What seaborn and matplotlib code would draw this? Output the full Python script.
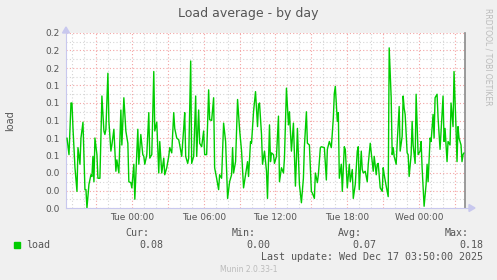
import matplotlib
matplotlib.use("Agg")
import matplotlib.pyplot as plt
import seaborn as sns
import pandas as pd
from matplotlib.ticker import MultipleLocator, FuncFormatter
from matplotlib.patches import Polygon, Rectangle
from matplotlib.lines import Line2D

# ---- data (minutes relative to Tue 00:00, load average) ----
minutes = [
    -325, -315, -305, -300, -295, -285, -275, -270, -260, -255, -245, -235, -230, -225,
    -215, -205, -200, -195, -190, -185, -175, -170, -160, -150, -140, -135, -130, -120,
    -115, -105, -100, -90, -80, -75, -65, -55, -50, -40, -30, -20, -15, -5, 0,
    10, 15, 30, 35, 45, 55, 60, 65, 75, 85, 90, 100, 110, 115, 125, 135, 140, 150, 160,
    165, 175, 185, 190, 200, 210, 215, 225, 235, 240, 250, 260, 265, 270, 280, 285, 295,
    300, 310, 320, 325, 335, 340,
    350, 360, 365, 375, 385, 390, 400, 410, 415, 425, 435, 440, 450, 460, 470, 475, 480,
    490, 500, 505, 510, 520, 530, 540, 550, 560, 570, 580, 585, 595, 600, 610, 620, 630,
    635, 640, 650, 655, 665, 675, 680,
    690, 695, 700, 710, 715, 725, 735, 740, 750, 760, 765, 775, 785, 790, 800, 810, 820,
    825, 830, 840, 850, 860, 865, 875, 880, 890, 900, 905, 915, 920, 930, 935, 945, 950,
    965, 975, 980, 990, 1000, 1010, 1015,
    1020, 1030, 1035, 1040, 1050, 1055, 1065, 1070, 1080, 1090, 1095, 1105, 1110, 1120,
    1130, 1135, 1140, 1150, 1155, 1160, 1170, 1180, 1185, 1195, 1205, 1210, 1215, 1225,
    1230, 1235, 1245, 1255, 1260, 1265, 1275, 1285, 1290, 1300, 1305, 1310, 1315, 1325,
    1330, 1340, 1345, 1355,
    1360, 1365, 1370, 1380, 1385, 1390, 1400, 1405, 1410, 1420, 1425, 1435, 1445, 1450,
    1455, 1465, 1475, 1480, 1485, 1495, 1500, 1510, 1515, 1520, 1530, 1535, 1545, 1550,
    1560, 1565, 1570, 1580, 1585, 1595, 1600, 1610, 1615, 1625, 1630, 1635, 1640, 1650,
    1655, 1660, 1665,
]
load = [
    0.080, 0.061, 0.120, 0.120, 0.091, 0.046, 0.019, 0.069, 0.050, 0.080, 0.098, 0.021, 0.021, 0.000,
    0.027, 0.038, 0.036, 0.059, 0.030, 0.080, 0.061, 0.034, 0.034, 0.128, 0.088, 0.084, 0.090, 0.154,
    0.099, 0.065, 0.072, 0.090, 0.042, 0.055, 0.040, 0.112, 0.072, 0.126, 0.088, 0.074, 0.030, 0.029, 0.023,
    0.050, 0.010, 0.090, 0.050, 0.084, 0.061, 0.059, 0.050, 0.061, 0.109, 0.057, 0.061, 0.156, 0.088, 0.098, 0.040, 0.076, 0.040, 0.057,
    0.038, 0.046, 0.059, 0.069, 0.063, 0.109, 0.091, 0.080, 0.078, 0.072, 0.059, 0.091, 0.109, 0.059, 0.051, 0.057, 0.168,
    0.051, 0.059, 0.128, 0.059, 0.112, 0.074,
    0.070, 0.088, 0.061, 0.061, 0.135, 0.101, 0.100, 0.126, 0.046, 0.034, 0.021, 0.038, 0.034, 0.097, 0.076, 0.042, 0.011,
    0.030, 0.038, 0.069, 0.040, 0.053, 0.124, 0.090, 0.065, 0.023, 0.038, 0.053, 0.036, 0.076, 0.074, 0.110, 0.133, 0.093,
    0.118, 0.120, 0.084, 0.050, 0.065, 0.042, 0.011,
    0.095, 0.053, 0.063, 0.061, 0.051, 0.059, 0.105, 0.030, 0.046, 0.040, 0.057, 0.137, 0.095, 0.110, 0.065, 0.097, 0.025,
    0.055, 0.091, 0.027, 0.006, 0.034, 0.070, 0.110, 0.074, 0.072, 0.019, 0.017, 0.011, 0.040, 0.029, 0.038, 0.069, 0.070,
    0.069, 0.032, 0.067, 0.076, 0.069, 0.103, 0.131,
    0.139, 0.099, 0.109, 0.034, 0.050, 0.019, 0.070, 0.067, 0.023, 0.050, 0.030, 0.044, 0.011, 0.027,
    0.065, 0.070, 0.021, 0.065, 0.044, 0.040, 0.042, 0.030, 0.050, 0.074, 0.053, 0.042, 0.059, 0.038,
    0.050, 0.051, 0.023, 0.019, 0.046, 0.038, 0.025, 0.013, 0.183, 0.126, 0.061, 0.069, 0.059, 0.050,
    0.074, 0.116, 0.065, 0.082,
    0.128, 0.114, 0.107, 0.063, 0.061, 0.036, 0.061, 0.099, 0.072, 0.051, 0.130, 0.061, 0.065, 0.076,
    0.046, 0.002, 0.027, 0.050, 0.030, 0.080, 0.076, 0.107, 0.080, 0.126, 0.130, 0.103, 0.067, 0.088,
    0.128, 0.076, 0.091, 0.053, 0.076, 0.072, 0.120, 0.093, 0.156, 0.091, 0.053, 0.093, 0.080, 0.072,
    0.053, 0.061, 0.063,
]
title = "Load average - by day"
ylabel = "load"
series_name = "load"
stat_headers = ["Cur:", "Min:", "Avg:", "Max:"]
stat_values = ["0.08", "0.00", "0.07", "0.18"]
last_update = "Last update: Wed Dec 17 03:50:00 2025"
footer = "Munin 2.0.33-1"
side_text = "RRDTOOL / TOBI OETIKER"
day_names = {-1: "Mon", 0: "Tue", 1: "Wed"}
x_range = (-330, 1670)
y_range = (0.0, 0.2)

df = pd.DataFrame({"minutes": minutes, "load": load})

sns.set_theme(style="white")
plt.rcParams["font.family"] = ["DejaVu Sans"]

W, H = 497, 280
fig = plt.figure(figsize=(W / 100, H / 100), dpi=100, facecolor="#F0F0F0")

def fx(x):
    return x / W

def fy(y):
    return 1 - y / H

L, R, T, B = 66, 465, 33, 208
ax = fig.add_axes([fx(L), fy(B), (R - L) / W, (B - T) / H])
ax.set_facecolor("white")

sns.lineplot(data=df, x="minutes", y="load", color="#00CC00", linewidth=1.0,
             estimator=None, ax=ax, zorder=3)

ax.set_xlim(*x_range)
ax.set_ylim(*y_range)
ax.set_xlabel("")
ax.set_ylabel("")

def xfmt(v, pos):
    m = int(round(v))
    if m % 360 != 0:
        return ""
    d = m // 1440
    mm = m - d * 1440
    return f"{day_names.get(d, '')} {mm // 60:02d}:{mm % 60:02d}"

ax.xaxis.set_major_locator(MultipleLocator(180))
ax.xaxis.set_minor_locator(MultipleLocator(60))
ax.xaxis.set_major_formatter(FuncFormatter(xfmt))
ax.yaxis.set_major_locator(MultipleLocator(0.02))
ax.yaxis.set_minor_locator(MultipleLocator(0.01))
ax.yaxis.set_major_formatter(FuncFormatter(lambda v, p: f"{v:.1f}"))

ax.set_axisbelow(True)
ax.grid(which="major", color="#F3A3A3", linestyle=(0, (1, 2)), linewidth=0.8)
ax.grid(which="minor", color="#D5D5D5", linestyle=(0, (1, 2)), linewidth=0.8)

ax.tick_params(axis="both", which="both", length=0, labelsize=6.5, labelcolor="#555555")
ax.tick_params(axis="x", pad=3.5)
ax.tick_params(axis="y", pad=4.5)

for s in ["top"]:
    ax.spines[s].set_visible(False)
ax.spines["left"].set_color("#C8C8EE")
ax.spines["bottom"].set_color("#C8C8EE")
ax.spines["left"].set_linewidth(0.8)
ax.spines["bottom"].set_linewidth(0.8)
ax.spines["right"].set_color("#8A8A8A")
ax.spines["right"].set_linewidth(1.2)

# axis arrows
arrow_c = "#C8C8EE"
fig.patches.append(Polygon([[fx(62.5), fy(33)], [fx(69.5), fy(33)], [fx(66), fy(27)]],
                           closed=True, transform=fig.transFigure, color=arrow_c, zorder=5))
fig.add_artist(Line2D([fx(R), fx(469)], [fy(B), fy(B)], color=arrow_c, linewidth=0.8))
fig.patches.append(Polygon([[fx(469), fy(204.5)], [fx(469), fy(211.5)], [fx(475), fy(208)]],
                           closed=True, transform=fig.transFigure, color=arrow_c, zorder=5))

# texts
fig.text(fx(248.5), fy(13), title, ha="center", va="center", fontsize=9, color="#555555")
fig.text(fx(10), fy(120.5), ylabel, ha="center", va="center", rotation=90, fontsize=7, color="#555555")
fig.text(fx(488), fy(57), side_text, ha="center", va="center", rotation=270, fontsize=5.5, color="#BBBBBB")

mono = "DejaVu Sans Mono"
fig.patches.append(Rectangle((fx(14), fy(248)), 6 / W, 6 / H, transform=fig.transFigure,
                             color="#00CC00", zorder=5))
fig.text(fx(26), fy(245), series_name, ha="left", va="center", fontsize=7.2, family=mono, color="#555555")
hdr_x = [149, 256, 362, 469]
val_x = [163, 270, 376, 483]
for hx, h in zip(hdr_x, stat_headers):
    fig.text(fx(hx), fy(233), h, ha="right", va="center", fontsize=7.2, family=mono, color="#555555")
for vx, v in zip(val_x, stat_values):
    fig.text(fx(vx), fy(245), v, ha="right", va="center", fontsize=7.2, family=mono, color="#555555")
fig.text(fx(483), fy(257), last_update, ha="right", va="center", fontsize=7.2, family=mono, color="#555555")
fig.text(fx(248.5), fy(269), footer, ha="center", va="center", fontsize=5.5, color="#BBBBBB")

fig.savefig("out.png", dpi=100, facecolor=fig.get_facecolor())
